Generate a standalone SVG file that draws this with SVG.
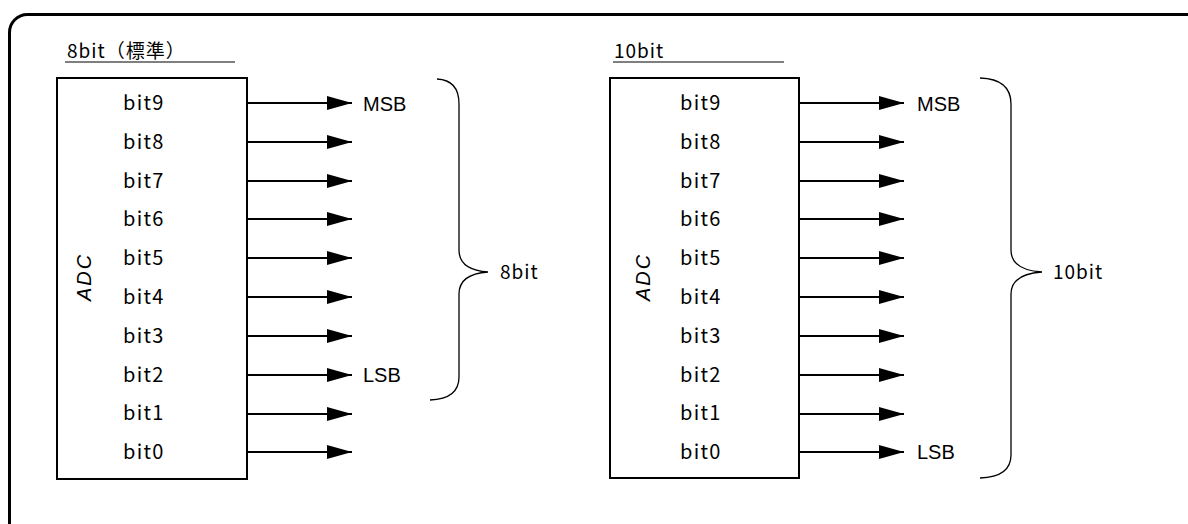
<svg xmlns="http://www.w3.org/2000/svg" width="1188" height="524" viewBox="0 0 1188 524">
  <style>
    .frame { fill: none; stroke: #000; stroke-width: 3; }
    .box { fill: #fff; stroke: #000; stroke-width: 2; }
    .rule { stroke: #000; stroke-width: 1.2; }
    .wire { stroke: #000; stroke-width: 2; fill: none; }
    .brace { fill: none; stroke: #000; stroke-width: 1.3; }
    .lbl { font-family: "Noto Sans CJK JP", "DejaVu Sans", sans-serif; font-size: 20px; letter-spacing: 1.3px; fill: #000; }
    .title { font-family: "Noto Sans CJK JP", "DejaVu Sans", sans-serif; font-size: 19px; letter-spacing: 1px; fill: #000; }
    .side { font-family: "Liberation Sans", Arial, sans-serif; font-size: 20px; fill: #000; }
    .adc { font-family: "Liberation Sans", Arial, sans-serif; font-size: 20px; font-style: italic; letter-spacing: 2px; fill: #000; }
  </style>
  <defs>
    <marker id="head" markerWidth="25" markerHeight="14" refX="25" refY="7" orient="auto" markerUnits="userSpaceOnUse">
      <polygon points="0,0 25,7 0,14" fill="#000"/>
    </marker>
  </defs>

  <!-- outer frame -->
  <rect class="frame" x="9.5" y="14.5" width="1200" height="530" rx="18" ry="18"/>

  <!-- 8bit (standard) block -->
  <g id="std8">
    <text class="title" x="67" y="58">8bit（標準）</text>
    <line class="rule" x1="65" y1="62" x2="235" y2="62"/>
    <g id="adc-left">
      <rect class="box" x="57" y="78" width="190" height="401"/>
      <text class="adc" transform="translate(91,277) rotate(-90)" text-anchor="middle">ADC</text>
      <text class="lbl" x="123" y="110">bit9</text>
      <text class="lbl" x="123" y="149">bit8</text>
      <text class="lbl" x="123" y="188">bit7</text>
      <text class="lbl" x="123" y="226">bit6</text>
      <text class="lbl" x="123" y="265">bit5</text>
      <text class="lbl" x="123" y="304">bit4</text>
      <text class="lbl" x="123" y="343">bit3</text>
      <text class="lbl" x="123" y="382">bit2</text>
      <text class="lbl" x="123" y="420">bit1</text>
      <text class="lbl" x="123" y="459">bit0</text>
    </g>
    <text class="side" x="363" y="111">MSB</text>
    <text class="side" x="363" y="382">LSB</text>
    <g id="brace-left">
      <path class="brace" d="M437,79 Q459,80 459,104 L459,250 Q459,270 488,272 Q459,274 459,294 L459,377 Q459,399 430,400"/>
      <text class="title" x="500" y="279">8bit</text>
    </g>
  </g>

  <!-- 10bit block -->
  <g id="full10">
    <text class="title" x="614" y="58">10bit</text>
    <line class="rule" x1="613" y1="62" x2="784" y2="62"/>
    <g id="adc-right">
      <rect class="box" x="610" y="78" width="189" height="400"/>
      <text class="adc" transform="translate(650,277) rotate(-90)" text-anchor="middle">ADC</text>
      <text class="lbl" x="680" y="110">bit9</text>
      <text class="lbl" x="680" y="149">bit8</text>
      <text class="lbl" x="680" y="188">bit7</text>
      <text class="lbl" x="680" y="226">bit6</text>
      <text class="lbl" x="680" y="265">bit5</text>
      <text class="lbl" x="680" y="304">bit4</text>
      <text class="lbl" x="680" y="343">bit3</text>
      <text class="lbl" x="680" y="382">bit2</text>
      <text class="lbl" x="680" y="420">bit1</text>
      <text class="lbl" x="680" y="459">bit0</text>
    </g>
    <text class="side" x="917" y="111">MSB</text>
    <text class="side" x="917" y="459">LSB</text>
    <g id="brace-right">
      <path class="brace" d="M980,78 Q1011,79 1011,104 L1011,250 Q1011,270 1042,272 Q1011,274 1011,294 L1011,455 Q1011,477 980,478"/>
      <text class="title" x="1053" y="279">10bit</text>
    </g>
  </g>

  <!-- bit output connectors -->
  <g id="connectors">
    <line class="wire" x1="247" y1="103" x2="352" y2="103" marker-end="url(#head)"/>
    <line class="wire" x1="247" y1="142" x2="352" y2="142" marker-end="url(#head)"/>
    <line class="wire" x1="247" y1="181" x2="352" y2="181" marker-end="url(#head)"/>
    <line class="wire" x1="247" y1="219" x2="352" y2="219" marker-end="url(#head)"/>
    <line class="wire" x1="247" y1="258" x2="352" y2="258" marker-end="url(#head)"/>
    <line class="wire" x1="247" y1="297" x2="352" y2="297" marker-end="url(#head)"/>
    <line class="wire" x1="247" y1="336" x2="352" y2="336" marker-end="url(#head)"/>
    <line class="wire" x1="247" y1="375" x2="352" y2="375" marker-end="url(#head)"/>
    <line class="wire" x1="247" y1="414" x2="352" y2="414" marker-end="url(#head)"/>
    <line class="wire" x1="247" y1="452" x2="352" y2="452" marker-end="url(#head)"/>

    <line class="wire" x1="799" y1="103" x2="904" y2="103" marker-end="url(#head)"/>
    <line class="wire" x1="799" y1="142" x2="904" y2="142" marker-end="url(#head)"/>
    <line class="wire" x1="799" y1="181" x2="904" y2="181" marker-end="url(#head)"/>
    <line class="wire" x1="799" y1="219" x2="904" y2="219" marker-end="url(#head)"/>
    <line class="wire" x1="799" y1="258" x2="904" y2="258" marker-end="url(#head)"/>
    <line class="wire" x1="799" y1="297" x2="904" y2="297" marker-end="url(#head)"/>
    <line class="wire" x1="799" y1="336" x2="904" y2="336" marker-end="url(#head)"/>
    <line class="wire" x1="799" y1="375" x2="904" y2="375" marker-end="url(#head)"/>
    <line class="wire" x1="799" y1="414" x2="904" y2="414" marker-end="url(#head)"/>
    <line class="wire" x1="799" y1="452" x2="904" y2="452" marker-end="url(#head)"/>
  </g>
</svg>
